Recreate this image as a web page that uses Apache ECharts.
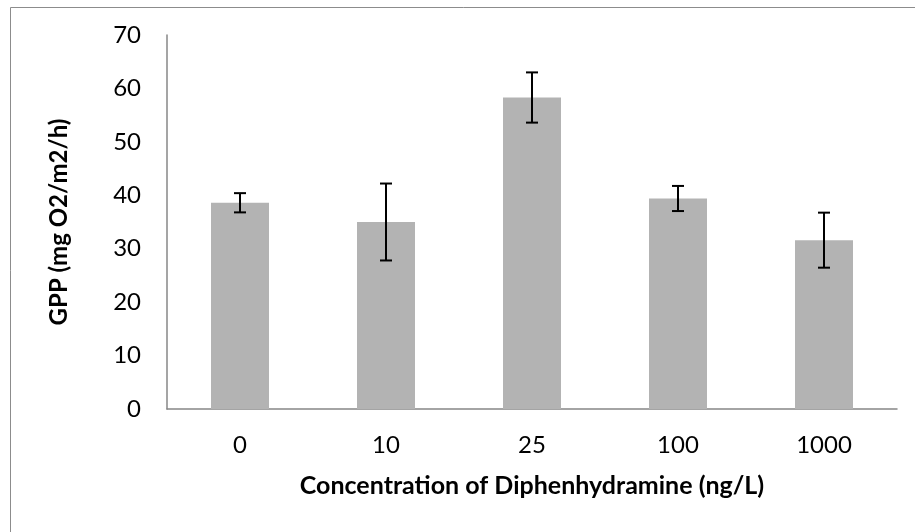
<!DOCTYPE html>
<html><head><meta charset="utf-8">
<script src="https://cdn.jsdelivr.net/npm/echarts@6/dist/echarts.min.js"></script>
<style>html,body{margin:0;padding:0;background:#fff}#c{width:915px;height:532px}</style>
</head><body><div id="c"></div>
<script>
const categories = ['0', '10', '25', '100', '1000'];
const gppMeans = [38.6, 35.0, 58.3, 39.4, 31.6];
const gppErrors = [1.8, 7.2, 4.7, 2.35, 5.15];
const yTicks = { min: 0, max: 70, interval: 10 };

const FONT = 'Lato, "Open Sans", sans-serif';
const chart = echarts.init(document.getElementById('c'), null, { renderer: 'canvas' });
chart.setOption({
  animation: false,
  backgroundColor: '#fff',
  graphic: [{
    type: 'rect', left: 8, top: 5, silent: true,
    shape: { width: 1000, height: 1000 },
    style: { fill: 'none', stroke: '#8c8c8c', lineWidth: 1 }
  }],
  grid: { left: 167, right: 18, top: 35, bottom: 123 },
  xAxis: {
    type: 'category', data: categories,
    axisLine: { lineStyle: { color: '#878787', width: 1.5 } },
    axisTick: { show: false },
    axisLabel: { color: '#000', fontFamily: FONT, fontSize: 24, margin: 24 },
    name: 'Concentration of Diphenhydramine (ng/L)',
    nameLocation: 'middle', nameGap: 64,
    nameTextStyle: { color: '#000', fontFamily: FONT, fontSize: 25, fontWeight: 'bold' }
  },
  yAxis: {
    type: 'value', min: yTicks.min, max: yTicks.max, interval: yTicks.interval,
    axisLine: { show: true, lineStyle: { color: '#878787', width: 1.5 } },
    axisTick: { show: false },
    splitLine: { show: false },
    axisLabel: { color: '#000', fontFamily: FONT, fontSize: 24, margin: 26 },
    name: 'GPP (mg O2/m2/h)',
    nameLocation: 'middle', nameGap: 96, nameRotate: 90,
    nameTextStyle: { color: '#000', fontFamily: FONT, fontSize: 24, fontWeight: 'bold' }
  },
  series: [{
    type: 'bar', data: gppMeans, barWidth: 58,
    itemStyle: { color: '#b3b3b3' }
  }, {
    type: 'custom',
    data: gppMeans.map((m, i) => [i, m - gppErrors[i], m + gppErrors[i]]),
    z: 10,
    renderItem: function (params, api) {
      const lo = api.coord([api.value(0), api.value(1)]);
      const hi = api.coord([api.value(0), api.value(2)]);
      const hw = 6;
      const st = { stroke: '#000', lineWidth: 2 };
      return { type: 'group', children: [
        { type: 'line', shape: { x1: hi[0], y1: hi[1], x2: lo[0], y2: lo[1] }, style: st },
        { type: 'line', shape: { x1: hi[0] - hw, y1: hi[1], x2: hi[0] + hw, y2: hi[1] }, style: st },
        { type: 'line', shape: { x1: lo[0] - hw, y1: lo[1], x2: lo[0] + hw, y2: lo[1] }, style: st }
      ]};
    }
  }]
});
</script></body></html>
